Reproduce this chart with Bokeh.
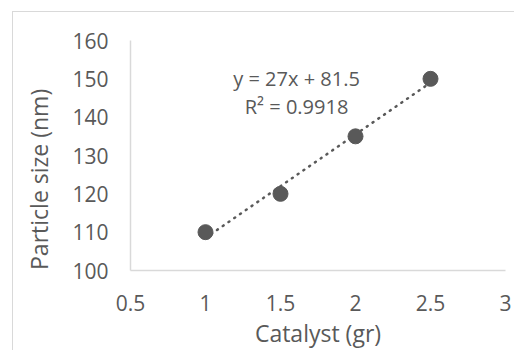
from bokeh.plotting import figure
from bokeh.models import Label, Range1d, FixedTicker
from bokeh.embed import file_html
from bokeh.resources import INLINE

# data
catalyst = [1.0, 1.5, 2.0, 2.5]
particle_size = [110, 120, 135, 150]
slope = 27
intercept = 81.5
r_squared = 0.9918
x_ticks = [0.5, 1, 1.5, 2, 2.5, 3]
y_ticks = [100, 110, 120, 130, 140, 150, 160]

GRAY = "#595959"
LINE = "#d9d9d9"
FONT = "Open Sans"

p = figure(width=502, height=339, output_backend="svg", toolbar_location=None,
           x_range=Range1d(0.5, 3), y_range=Range1d(100, 160),
           min_border_left=117, min_border_right=10, min_border_top=28, min_border_bottom=81,
           margin=(11, 0, 0, 12),
           styles={"border-top": "1px solid #d9d9d9", "border-left": "1px solid #d9d9d9"})
p.outline_line_color = None
p.grid.visible = False
p.background_fill_color = "white"
p.border_fill_color = "white"

for ax in (p.xaxis[0], p.yaxis[0]):
    ax.axis_line_color = LINE
    ax.axis_line_width = 1.5
    ax.major_tick_line_color = None
    ax.minor_tick_line_color = None
    ax.major_label_text_color = GRAY
    ax.major_label_text_font = FONT
    ax.major_label_text_font_size = "21px"
    ax.axis_label_text_color = GRAY
    ax.axis_label_text_font = FONT
    ax.axis_label_text_font_size = "23px"
    ax.axis_label_text_font_style = "normal"

p.xaxis.ticker = FixedTicker(ticks=x_ticks)
p.yaxis.ticker = FixedTicker(ticks=y_ticks)
p.xaxis.major_label_overrides = {t: (str(t) if t != int(t) else str(int(t))) for t in x_ticks}
p.xaxis.major_label_standoff = 18
p.yaxis.major_label_standoff = 16
p.xaxis.axis_label = "Catalyst (gr)"
p.xaxis.axis_label_standoff = 3
# title sits a little below the frame centre in the reference
p.yaxis.axis_label = "Particle size (nm)" + "\u00a0" * 8
p.yaxis.axis_label_standoff = 14

# trendline
tx = [catalyst[0], catalyst[-1]]
ty = [slope * v + intercept for v in tx]
p.line(tx, ty, line_color=GRAY, line_width=2.5, line_dash="1 6", line_cap="round")

p.scatter(catalyst, particle_size, size=15, fill_color=GRAY, line_color=GRAY)

eq1 = f"y = {slope}x + {intercept}"
eq2 = f"R² = {r_squared}"
p.add_layout(Label(x=1.607, y=150.1, text=eq1, text_align="center", text_baseline="middle",
                   text_color=GRAY, text_font=FONT, text_font_size="20px"))
p.add_layout(Label(x=1.607, y=142.8, text=eq2, text_align="center", text_baseline="middle",
                   text_color=GRAY, text_font=FONT, text_font_size="20px"))

open("out.html", "w").write(file_html(p, INLINE))
